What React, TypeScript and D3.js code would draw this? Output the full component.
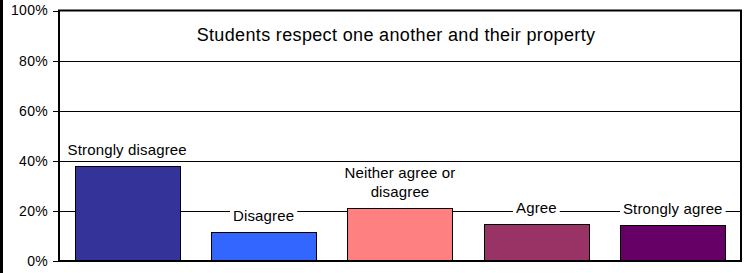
import * as d3 from 'd3';
import { useEffect, useRef } from 'react';

const title = 'Students respect one another and their property';
const categories = ['Strongly disagree', 'Disagree', 'Neither agree or disagree', 'Agree', 'Strongly agree'];
const labelLines = [['Strongly disagree'], ['Disagree'], ['Neither agree or', 'disagree'], ['Agree'], ['Strongly agree']];
const values = [38, 11.7, 21.1, 14.7, 14.4];
const colors = ['#333399', '#3366FF', '#FF8080', '#993366', '#660066'];
const yTicks = [0, 20, 40, 60, 80, 100];

const W = 747;
const H = 273;
const font = '"Liberation Sans", Arial, sans-serif';

const App = () => {
  const ref = useRef<SVGSVGElement | null>(null);

  useEffect(() => {
    if (!ref.current) return;
    const svg = d3.select(ref.current);
    svg.selectAll('*').remove();

    const left = 59, right = 741, top = 10.5, bottom = 261;
    const x = d3.scaleBand<string>().domain(categories).range([left, right]).paddingInner(0.23).paddingOuter(0.115);
    const y = d3.scaleLinear().domain([0, 100]).range([bottom, top]);

    svg.append('rect').attr('width', W).attr('height', H).attr('fill', '#fff');
    // outer left border
    svg.append('rect').attr('x', 0).attr('y', 0).attr('width', 3).attr('height', H).attr('fill', '#000');

    // gridlines
    svg.append('g').selectAll('line')
      .data(yTicks.filter(t => t > 0 && t < 100))
      .enter().append('line')
      .attr('x1', left).attr('x2', right)
      .attr('y1', d => Math.round(y(d)) + 0.5).attr('y2', d => Math.round(y(d)) + 0.5)
      .attr('stroke', '#000').attr('stroke-width', 1);

    // ticks + labels
    const ticks = svg.append('g');
    ticks.selectAll('line')
      .data(yTicks).enter().append('line')
      .attr('x1', left - 6).attr('x2', left)
      .attr('y1', d => Math.round(y(d)) + 0.5).attr('y2', d => Math.round(y(d)) + 0.5)
      .attr('stroke', '#000');
    ticks.selectAll('text')
      .data(yTicks).enter().append('text')
      .attr('x', 48).attr('y', d => y(d))
      .attr('dy', '0.35em')
      .attr('text-anchor', 'end')
      .style('font-family', font).style('font-size', '14px').style('letter-spacing', '0.3px')
      .attr('fill', '#000')
      .text(d => `${d}%`);

    // bars
    svg.append('g').selectAll('rect')
      .data(values).enter().append('rect')
      .attr('x', (_, i) => Math.round(x(categories[i]) ?? 0) + 0.5)
      .attr('y', d => Math.round(y(d)) + 0.5)
      .attr('width', Math.round(x.bandwidth()))
      .attr('height', d => Math.round(bottom) - Math.round(y(d)))
      .attr('fill', (_, i) => colors[i])
      .attr('stroke', '#000').attr('stroke-width', 1);

    // bar labels with white boxes
    const lineH = 19;
    const lg = svg.append('g');
    labelLines.forEach((lines, i) => {
      const cx = (x(categories[i]) ?? 0) + x.bandwidth() / 2;
      const lastY = y(values[i]) - 16;
      const g = lg.append('g');
      const rect = g.append('rect').attr('fill', '#fff');
      const t = g.append('text')
        .attr('text-anchor', 'middle')
        .style('font-family', font).style('font-size', '15px').style('letter-spacing', '0.15px')
        .attr('fill', '#000');
      lines.forEach((ln, j) => {
        t.append('tspan').attr('x', cx)
          .attr('y', lastY - (lines.length - 1 - j) * lineH)
          .attr('dy', '0.35em')
          .text(ln);
      });
      const bb = (t.node() as SVGTextElement).getBBox();
      rect.attr('x', bb.x - 3).attr('y', bb.y - 2).attr('width', bb.width + 6).attr('height', bb.height + 4);
    });

    // plot frame
    svg.append('rect')
      .attr('x', left).attr('y', top).attr('width', right - left).attr('height', bottom - top)
      .attr('fill', 'none').attr('stroke', '#000').attr('stroke-width', 2);

    // title
    svg.append('text')
      .attr('x', (left + right) / 2 - 4).attr('y', 35)
      .attr('dy', '0.35em')
      .attr('text-anchor', 'middle')
      .style('font-family', font).style('font-size', '18px').style('letter-spacing', '0.35px')
      .attr('fill', '#000')
      .text(title);
  }, []);

  return (
    <svg ref={ref} width={W} height={H} style={{ position: 'absolute', left: 0, top: 0 }} />
  );
};

export default App;
